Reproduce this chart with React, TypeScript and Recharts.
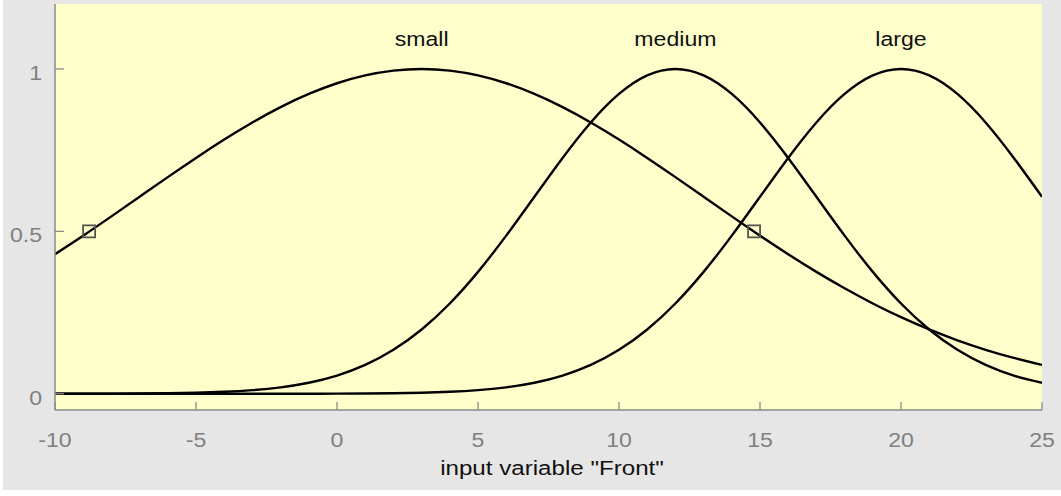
import React from "react";
import {
  ComposedChart,
  Line,
  Scatter,
  XAxis,
  YAxis,
  ReferenceArea,
  ReferenceDot,
} from "recharts";

// Input variable "Front": membership degree of each fuzzy set, sampled at integer x
const xValues = [
  -10, -9, -8, -7, -6, -5, -4, -3, -2, -1, 0, 1, 2, 3, 4, 5, 6, 7, 8, 9, 10, 11,
  12, 13, 14, 15, 16, 17, 18, 19, 20, 21, 22, 23, 24, 25,
];
const smallValues = [
  0.4296, 0.4868, 0.5461, 0.6065, 0.667, 0.7261, 0.7827, 0.8353, 0.8825,
  0.9231, 0.956, 0.9802, 0.995, 1, 0.995, 0.9802, 0.956, 0.9231, 0.8825,
  0.8353, 0.7827, 0.7261, 0.667, 0.6065, 0.5461, 0.4868, 0.4296, 0.3753,
  0.3247, 0.278, 0.2357, 0.1979, 0.1645, 0.1353, 0.1103, 0.0889,
];
const mediumValues = [
  0.0001, 0.00015, 0.00034, 0.00073, 0.00154, 0.00309, 0.00598, 0.0111, 0.0198,
  0.034, 0.0561, 0.0889, 0.1353, 0.1979, 0.278, 0.3753, 0.4868, 0.6065, 0.7261,
  0.8353, 0.9231, 0.9802, 1, 0.9802, 0.9231, 0.8353, 0.7261, 0.6065, 0.4868,
  0.3753, 0.278, 0.1979, 0.1353, 0.0889, 0.0561, 0.034,
];
const largeValues = [
  0, 0, 0, 0, 0, 0, 0, 0, 0.0001, 0.00015, 0.00034, 0.00073, 0.00154, 0.00309,
  0.00598, 0.0111, 0.0198, 0.034, 0.0561, 0.0889, 0.1353, 0.1979, 0.278,
  0.3753, 0.4868, 0.6065, 0.7261, 0.8353, 0.9231, 0.9802, 1, 0.9802, 0.9231,
  0.8353, 0.7261, 0.6065,
];

// Set names and the x position of their peak, where the name is printed
const setNames = ["small", "medium", "large"];
const setPeaks = [3, 12, 20];

// Half-membership points marked on the "small" curve
const markerX = [-8.79, 14.79];
const markerY = [0.5, 0.5];

const xTicks = [-10, -5, 0, 5, 10, 15, 20, 25];
const yTicks = [0, 0.5, 1];
const xDomain: [number, number] = [-10, 25];
const yDomain: [number, number] = [-0.05, 1.2];

const rows = xValues.map((x, i) => ({
  x,
  small: smallValues[i],
  medium: mediumValues[i],
  large: largeValues[i],
}));
const markers = markerX.map((x, i) => ({ x, y: markerY[i] }));

const AXIS = "#8a8a8a";
const TICK_TEXT = "#808080";
const FONT = "'Liberation Sans', Arial, Helvetica, sans-serif";
const FS = 21;
const SX = 1.1;

const Txt = ({ x, y, anchor, fill, sx = SX, children }: any) => (
  <text
    transform={`translate(${x},${y}) scale(${sx},1)`}
    x={0}
    y={0}
    textAnchor={anchor}
    fill={fill}
    fontSize={FS}
    fontFamily={FONT}
  >
    {children}
  </text>
);

const BottomTick = ({ x, y, payload }: any) => (
  <g>
    <line x1={x} x2={x} y1={y - 8} y2={y} stroke={AXIS} strokeWidth={1.3} />
    <Txt x={x} y={y + 37} anchor="middle" fill={TICK_TEXT}>
      {payload.value}
    </Txt>
  </g>
);

const TopTick = ({ x, y }: any) => (
  <line x1={x} x2={x} y1={y} y2={y + 8} stroke={AXIS} strokeWidth={1.3} />
);

const LeftTick = ({ x, y, payload }: any) => (
  <g>
    <line x1={x} x2={x + 9} y1={y} y2={y} stroke={AXIS} strokeWidth={1.3} />
    <Txt x={x - 13} y={y + 11} anchor="end" fill={TICK_TEXT}>
      {payload.value}
    </Txt>
  </g>
);

const RightTick = ({ x, y }: any) => (
  <line x1={x - 9} x2={x} y1={y} y2={y} stroke={AXIS} strokeWidth={1.3} />
);

const SquareMarker = ({ cx, cy }: any) => (
  <rect
    x={cx - 6}
    y={cy - 6}
    width={12}
    height={12}
    fill="none"
    stroke="#555550"
    strokeWidth={1.8}
  />
);

const makeNameShape =
  (name: string) =>
  ({ cx, cy }: any) => (
    <Txt x={cx} y={cy + 10} anchor="middle" fill="#111">
      {name}
    </Txt>
  );

export default function App() {
  return (
    <div
      style={{
        position: "absolute",
        left: 0,
        top: 0,
        width: 1061,
        height: 496,
        background: "#ffffff",
      }}
    >
      <div
        style={{
          position: "absolute",
          left: 3,
          top: 0,
          width: 1058,
          height: 490,
          background: "#e6e6e6",
        }}
      />
      <div style={{ position: "absolute", left: 0, top: 0 }}>
        <ComposedChart
          width={1061}
          height={496}
          data={rows}
          margin={{ top: 4, right: 19, bottom: 0, left: 0 }}
        >
          <ReferenceArea
            x1={xDomain[0]}
            x2={xDomain[1]}
            y1={yDomain[0]}
            y2={yDomain[1]}
            fill="#ffffcc"
            fillOpacity={1}
            stroke="none"
            ifOverflow="visible"
          />
          <XAxis
            type="number"
            dataKey="x"
            domain={xDomain}
            ticks={xTicks}
            allowDataOverflow
            height={86}
            tickLine={false}
            tickSize={0}
            tickMargin={0}
            axisLine={{ stroke: AXIS, strokeWidth: 1.5 }}
            tick={<BottomTick />}
            interval={0}
          />
          <XAxis
            xAxisId="top"
            orientation="top"
            type="number"
            dataKey="x"
            domain={xDomain}
            ticks={xTicks}
            allowDataOverflow
            height={0}
            tickLine={false}
            tickSize={0}
            tickMargin={0}
            axisLine={{ stroke: AXIS, strokeWidth: 1.5 }}
            tick={<TopTick />}
            interval={0}
          />
          <YAxis
            type="number"
            domain={yDomain}
            ticks={yTicks}
            allowDataOverflow
            width={55}
            tickLine={false}
            tickSize={0}
            tickMargin={0}
            axisLine={{ stroke: AXIS, strokeWidth: 1.5 }}
            tick={<LeftTick />}
            interval={0}
          />
          <YAxis
            yAxisId="right"
            orientation="right"
            type="number"
            domain={yDomain}
            ticks={yTicks}
            allowDataOverflow
            width={0}
            tickLine={false}
            tickSize={0}
            tickMargin={0}
            axisLine={{ stroke: AXIS, strokeWidth: 1.5 }}
            tick={<RightTick />}
            interval={0}
          />
          <Line
            type="natural"
            dataKey="small"
            stroke="#000"
            strokeWidth={2.4}
            dot={false}
            isAnimationActive={false}
          />
          <Line
            type="natural"
            dataKey="medium"
            stroke="#000"
            strokeWidth={2.4}
            dot={false}
            isAnimationActive={false}
          />
          <Line
            type="natural"
            dataKey="large"
            stroke="#000"
            strokeWidth={2.4}
            dot={false}
            isAnimationActive={false}
          />
          <Scatter
            data={markers}
            dataKey="y"
            shape={<SquareMarker />}
            isAnimationActive={false}
          />
          {setNames.map((name, i) => (
            <ReferenceDot
              key={name}
              x={setPeaks[i]}
              y={1.1}
              r={0}
              shape={makeNameShape(name)}
              ifOverflow="visible"
            />
          ))}
          <Txt x={552} y={475} anchor="middle" fill="#111" sx={1.15}>
            input variable "Front"
          </Txt>
        </ComposedChart>
      </div>
    </div>
  );
}
